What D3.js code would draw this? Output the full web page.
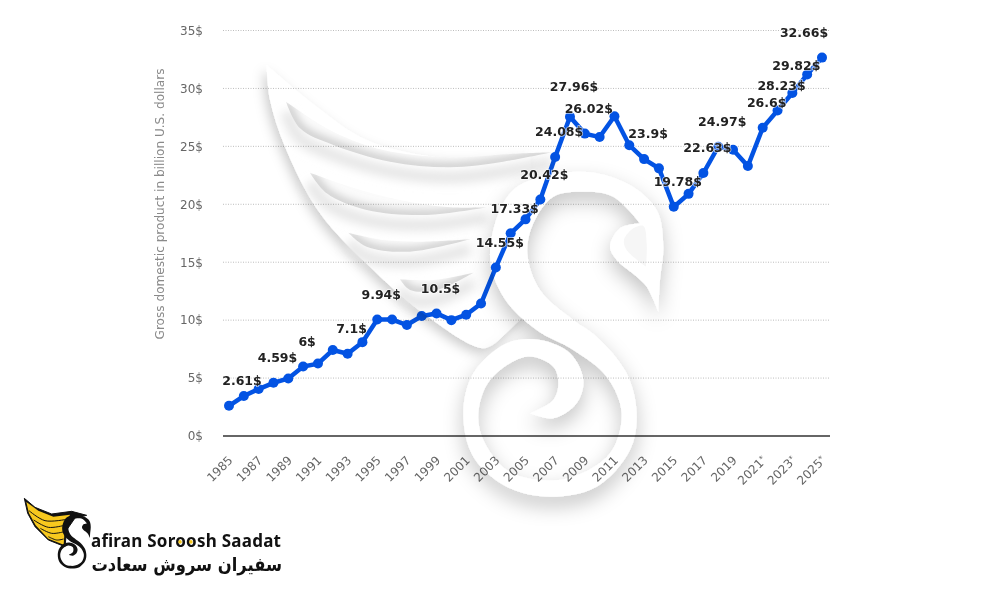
<!DOCTYPE html>
<html>
<head>
<meta charset="utf-8">
<script src="https://cdn.jsdelivr.net/npm/d3@7/dist/d3.min.js"></script>
<style>
  html, body { margin: 0; padding: 0; background: #fff; }
  svg { display: block; font-family: "DejaVu Sans", sans-serif; }
  .domain { display: none; }
  .tick line { display: none; }
  .tick text { fill: #666; font-size: 12px; font-family: "DejaVu Sans", sans-serif; }
</style>
</head>
<body>
<svg id="chart" width="1000" height="600"></svg>
<script>
// values
const years = d3.range(1985, 2026);
const gdp = [2.61, 3.45, 4.05, 4.59, 4.97, 6, 6.25, 7.42, 7.1, 8.1,
  10.06, 10.05, 9.58, 10.35, 10.58, 10, 10.47, 11.43, 14.55, 17.5,
  18.7, 20.42, 24.08, 27.55, 26.1, 25.8, 27.6, 25.1, 23.9, 23.1,
  19.78, 20.9, 22.7, 24.97, 24.7, 23.3, 26.6, 28.1, 29.6, 31.2, 32.66];
const yTicks = [0, 5, 10, 15, 20, 25, 30, 35];
const xTicks = d3.range(1985, 2026, 2);
const forecastFrom = 2021;
const labelYears = [1985, 1988, 1990, 1993, 1995, 1999, 2003, 2004, 2006, 2007, 2008, 2009, 2013, 2015, 2017, 2018, 2021, 2022, 2023, 2025];
const labelTexts = ['2.61$', '4.59$', '6$', '7.1$', '9.94$', '10.5$', '14.55$', '17.33$', '20.42$', '24.08$', '27.96$', '26.02$', '23.9$', '19.78$', '22.63$', '24.97$', '26.6$', '28.23$', '29.82$', '32.66$'];
const yTitle = 'Gross domestic product in billion U.S. dollars';

// labels mostly sit 4px right and 25px above their point, these do not
const labelShift = { 1985: [13, -25], 2008: [4, -30], 2023: [4, -27], 2025: [-18, -25] };

const svg = d3.select('#chart');
svg.append('rect').attr('width', 1000).attr('height', 600).attr('fill', '#fff');

const x = d3.scaleLinear().domain([1985, 2025]).range([229, 822]);
const y = d3.scaleLinear().domain([0, 35]).range([436, 30.5]);

// grid
svg.append('g').selectAll('line')
  .data(yTicks.filter((d) => d > 0))
  .join('line')
  .attr('x1', 223).attr('x2', 830)
  .attr('y1', (d) => y(d)).attr('y2', (d) => y(d))
  .attr('stroke', '#bdbdbd').attr('stroke-dasharray', '1 1.5');

// axes
svg.append('g')
  .attr('transform', 'translate(207,0)')
  .call(d3.axisLeft(y).tickValues(yTicks).tickSize(0).tickPadding(4).tickFormat((d) => d + '$'));

const xAxis = svg.append('g')
  .attr('transform', 'translate(0,436)')
  .call(d3.axisBottom(x).tickValues(xTicks).tickSize(0).tickFormat((d) => d));
xAxis.selectAll('text')
  .attr('text-anchor', 'end')
  .attr('dy', 0)
  .attr('y', 0)
  .attr('transform', 'translate(4,25) rotate(-45)')
  .filter((d) => d >= forecastFrom)
  .append('tspan').attr('font-size', 8).attr('dy', -3).text('*');

svg.append('line')
  .attr('x1', 223).attr('x2', 830).attr('y1', y(0)).attr('y2', y(0))
  .attr('stroke', '#333').attr('stroke-width', 1.5);

svg.append('text')
  .attr('transform', `translate(164,${204}) rotate(-90)`)
  .attr('text-anchor', 'middle')
  .attr('font-size', 12.1)
  .attr('fill', '#8a8a8a')
  .text(yTitle);

// line and points
const lineGen = d3.line().x((d, i) => x(years[i])).y((d) => y(d));
svg.append('path')
  .attr('d', lineGen(gdp))
  .attr('fill', 'none')
  .attr('stroke', '#0353e3')
  .attr('stroke-width', 4.5);
svg.append('g').selectAll('circle')
  .data(gdp)
  .join('circle')
  .attr('cx', (d, i) => x(years[i]))
  .attr('cy', (d) => y(d))
  .attr('r', 5)
  .attr('fill', '#0353e3');

// watermark, white shapes multiplied over the chart so only their shadows show
const defs = svg.append('defs');
const shadow = (id, dx, dy, blur, alpha) => {
  defs.append('filter').attr('id', id)
    .attr('x', '-30%').attr('y', '-30%').attr('width', '160%').attr('height', '160%')
    .append('feDropShadow')
    .attr('dx', dx).attr('dy', dy).attr('stdDeviation', blur)
    .attr('flood-color', '#000').attr('flood-opacity', alpha);
};
shadow('soft', -3, 5, 6, 0.2);
shadow('wide', 0, 9, 10, 0.24);
defs.append('filter').attr('id', 'blur')
  .attr('x', '-20%').attr('y', '-80%').attr('width', '140%').attr('height', '260%')
  .append('feGaussianBlur').attr('stdDeviation', 5);

const curve = d3.line().curve(d3.curveCatmullRom);
const toPage = (pts, ox, oy) => pts.map(([a, b]) => [a / 3 + ox, b / 3 + oy]);
// joins smooth runs with sharp corners between them
const outline = (runs, ox, oy) => runs
  .map((r, i) => {
    const d = curve(toPage(r, ox, oy));
    return i === 0 ? d : 'L' + d.slice(1);
  }).join('') + 'Z';

const wm = svg.append('g').style('mix-blend-mode', 'multiply');

const wingRuns = [
  [[50, 45], [200, 170], [350, 270], [550, 320], [750, 320], [840, 312]],
  [[840, 312], [840, 420], [800, 620], [790, 740], [830, 790]],
  [[830, 790], [750, 867]],
  [[750, 867], [700, 895], [520, 790], [370, 660], [210, 490], [105, 290], [60, 150], [50, 45]]
];
wm.append('path').attr('d', outline(wingRuns, 250, 50)).attr('fill', '#fff').attr('filter', 'url(#soft)');

// gaps between feathers: [upper edge, lower edge] from tip to the right
const pockets = [
  [[[108, 155], [250, 245], [400, 300], [600, 322], [780, 312], [905, 307]],
    [[905, 307], [760, 335], [600, 352], [420, 335], [250, 285], [150, 235], [108, 155]]],
  [[[180, 368], [300, 410], [450, 450], [600, 472], [710, 472]],
    [[710, 472], [530, 495], [350, 480], [230, 430], [180, 368]]],
  [[[295, 548], [400, 570], [520, 575], [660, 568]],
    [[660, 568], [480, 605], [350, 590], [295, 548]]],
  [[[450, 688], [550, 690], [670, 668]],
    [[670, 668], [560, 720], [480, 720], [450, 688]]]
];
pockets.forEach((p, i) => {
  const id = 'pocket' + i;
  const edge = curve(toPage(p[1], 250, 50));
  wm.append('path').attr('d', edge).attr('fill', 'none')
    .attr('transform', 'translate(0,10)')
    .attr('stroke', '#e6e6e6').attr('stroke-width', 12).attr('filter', 'url(#blur)');
  defs.append('clipPath').attr('id', id).append('path').attr('d', outline(p, 250, 50));
  wm.append('path').attr('d', outline(p, 250, 50)).attr('fill', '#fbfbfb');
  wm.append('g').attr('clip-path', `url(#${id})`)
    .append('path').attr('d', edge).attr('fill', 'none')
    .attr('stroke', '#c2c2c2').attr('stroke-width', 8).attr('filter', 'url(#blur)');
});

// the S neck, spiral and head, in one closed outline
const swanRuns = [
  [[655, 515], [620, 440], [590, 410], [530, 360], [510, 320], [540, 265], [600, 250]],
  [[600, 250], [520, 170], [430, 155], [340, 170], [280, 250], [262, 340], [300, 450], [400, 540], [470, 590], [560, 700], [590, 820], [570, 930], [470, 1040], [330, 1070], [200, 1040], [100, 950], [70, 820], [100, 700], [200, 610], [300, 600], [390, 640], [430, 720], [410, 790], [340, 835], [270, 820]],
  [[270, 820], [340, 780], [355, 730], [340, 680], [260, 650], [150, 720], [115, 820], [130, 900], [200, 990], [300, 1020], [400, 1010], [510, 940], [545, 820], [500, 710], [400, 630], [290, 570], [190, 470], [150, 340], [220, 150], [420, 95], [560, 130], [650, 210], [670, 320], [660, 420], [655, 515]]
];
const swanPath = outline(swanRuns, 440, 140);
wm.append('path').attr('d', swanPath).attr('fill', '#fff').attr('filter', 'url(#wide)');
const eyeRun = [[[618, 380], [560, 330], [552, 300], [580, 265], [610, 258], [620, 310], [618, 380]]];
wm.append('path').attr('d', outline(eyeRun, 440, 140)).attr('fill', '#f6f6f6');

// value labels go above the watermark
svg.append('g').selectAll('text')
  .data(labelYears)
  .join('text')
  .attr('x', (d) => x(d) + (labelShift[d] ? labelShift[d][0] : 4))
  .attr('y', (d) => y(gdp[years.indexOf(d)]) + (labelShift[d] ? labelShift[d][1] : -25))
  .attr('dy', '.35em')
  .attr('text-anchor', 'middle')
  .attr('font-size', 12.5)
  .attr('font-weight', 700)
  .attr('fill', '#222')
  .attr('stroke', '#fff')
  .attr('stroke-width', 1.5)
  .attr('stroke-opacity', 0.7)
  .style('paint-order', 'stroke')
  .text((d, i) => labelTexts[i]);

// logo, bottom left
const logo = svg.append('g');
const logoPts = (pts) => pts.map(([a, b]) => [a / 3 + 15, b / 3 + 490]);
const logoWing = [[28, 25], [60, 52], [110, 72], [170, 64], [215, 76], [180, 84], [155, 120], [150, 170], [100, 150], [60, 110], [38, 70], [28, 25]];
logo.append('path').attr('d', d3.line()(logoPts(logoWing)) + 'Z').attr('fill', '#111').attr('stroke', '#111').attr('stroke-linejoin', 'round');
const logoFill = [[34, 36], [70, 62], [115, 80], [165, 74], [150, 105], [146, 164], [100, 146], [62, 106], [42, 70]];
logo.append('path').attr('d', d3.line()(logoPts(logoFill)) + 'Z').attr('fill', '#f7c81e');
[[[42, 62], [90, 92], [155, 88]], [[56, 90], [100, 112], [148, 106]], [[76, 115], [110, 130], [144, 126]], [[100, 140], [125, 150], [146, 147]]]
  .forEach((f) => {
    logo.append('path').attr('d', curve(logoPts(f))).attr('fill', 'none').attr('stroke', '#111').attr('stroke-width', 1);
  });
logo.append('path')
  .attr('d', swanPath)
  .attr('fill', '#111')
  .attr('transform', 'translate(57.7,515) scale(0.165) translate(-463,-172)');

const brand = logo.append('text')
  .attr('x', 91).attr('y', 546.5)
  .attr('font-family', '"Noto Sans", sans-serif')
  .attr('font-weight', 700).attr('font-size', 17)
  .attr('textLength', 190).attr('lengthAdjust', 'spacing')
  .attr('fill', '#111')
  .text('afiran Soroosh Saadat');
[10, 11].forEach((i) => {
  const b = brand.node().getExtentOfChar(i);
  logo.append('circle')
    .attr('cx', b.x + b.width / 2 - 0.5).attr('cy', 546.5 - 4.6).attr('r', 1.8)
    .attr('fill', '#f7c81e');
});
logo.append('text')
  .attr('transform', 'translate(282,571) scale(0.86,1)')
  .attr('text-anchor', 'start')
  .attr('font-family', '"DejaVu Sans", sans-serif')
  .attr('font-weight', 700).attr('font-size', 19)
  .attr('fill', '#111')
  .attr('direction', 'rtl')
  .text('سفیران سروش سعادت');
</script>
</body>
</html>
